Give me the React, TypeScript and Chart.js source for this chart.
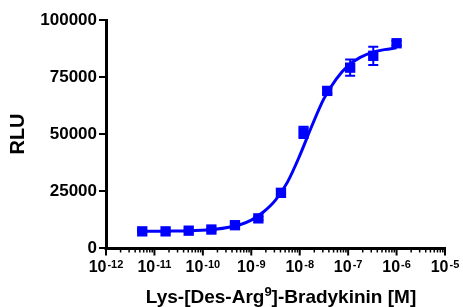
import React, { useEffect, useRef } from 'react';
import { Chart, registerables } from 'chart.js';

Chart.register(...registerables);

// Concentrations (M), 3-fold dilution series
const concentrations = [5.6e-12, 1.7e-11, 5.1e-11, 1.5e-10, 4.6e-10, 1.4e-9, 4.1e-9, 1.2e-8, 3.7e-8, 1.1e-7, 3.3e-7, 1.0e-6];
const rluMean = [7300, 7300, 7600, 8100, 10000, 13000, 24200, 50700, 68900, 79100, 84300, 89800];
const rluError = [300, 300, 300, 400, 600, 700, 1500, 2500, 1200, 3600, 4000, 1000];

// Fitted curve (log10 concentration, RLU)
const fitLogConc = [-11.25, -10.75, -10.25, -9.75, -9.25, -9.0, -8.75, -8.5, -8.25, -8.0, -7.75, -7.5, -7.25, -7.0, -6.75, -6.5, -6.25, -6.0];
const fitRLU = [7300, 7400, 7600, 8200, 10100, 12200, 15800, 21000, 29000, 40500, 53500, 65500, 74000, 80000, 83600, 85800, 87000, 87800];

const yTicks = [0, 25000, 50000, 75000, 100000];
const xDecades = [-12, -11, -10, -9, -8, -7, -6, -5];

const BLUE = '#0000FF';
const FONT = "'Liberation Sans', Arial, sans-serif";

const W = 463;
const H = 307;

const errorBarPlugin = {
  id: 'errorBars',
  afterDatasetsDraw(chart: any) {
    const { ctx, scales } = chart;
    const x = scales.x;
    const y = scales.y;
    ctx.save();
    ctx.strokeStyle = BLUE;
    ctx.lineWidth = 2;
    concentrations.forEach((c, i) => {
      const px = x.getPixelForValue(c);
      const yTop = y.getPixelForValue(rluMean[i] + rluError[i]);
      const yBot = y.getPixelForValue(rluMean[i] - rluError[i]);
      ctx.beginPath();
      ctx.moveTo(px, yTop);
      ctx.lineTo(px, yBot);
      ctx.moveTo(px - 5, yTop);
      ctx.lineTo(px + 5, yTop);
      ctx.moveTo(px - 5, yBot);
      ctx.lineTo(px + 5, yBot);
      ctx.stroke();
    });
    ctx.restore();
  },
};

const xAxisPlugin = {
  id: 'customXAxis',
  afterDraw(chart: any) {
    const { ctx, scales, chartArea } = chart;
    const x = scales.x;
    const y0 = chartArea.bottom + 0.5;
    ctx.save();
    ctx.strokeStyle = '#000';
    ctx.fillStyle = '#000';
    // axis line
    ctx.lineWidth = 3;
    ctx.beginPath();
    ctx.moveTo(x.getPixelForValue(Math.pow(10, xDecades[0])) - 1.5, y0);
    ctx.lineTo(x.getPixelForValue(Math.pow(10, xDecades[xDecades.length - 1])) + 1, y0);
    ctx.stroke();
    // ticks
    xDecades.forEach((d, idx) => {
      const px = x.getPixelForValue(Math.pow(10, d));
      ctx.lineWidth = 2;
      ctx.beginPath();
      ctx.moveTo(px, y0);
      ctx.lineTo(px, y0 + 7);
      ctx.stroke();
      if (idx < xDecades.length - 1) {
        ctx.lineWidth = 1.5;
        for (let m = 2; m <= 9; m++) {
          const mp = x.getPixelForValue(m * Math.pow(10, d));
          ctx.beginPath();
          ctx.moveTo(mp, y0);
          ctx.lineTo(mp, y0 + 4);
          ctx.stroke();
        }
      }
      // label 10^d
      const base = '10';
      const exp = String(d);
      ctx.font = `bold 16px ${FONT}`;
      const bw = ctx.measureText(base).width;
      ctx.font = `bold 11px ${FONT}`;
      const ew = ctx.measureText(exp).width;
      const total = bw + 1 + ew;
      const left = px - total / 2;
      const baseY = 272;
      ctx.textAlign = 'left';
      ctx.textBaseline = 'alphabetic';
      ctx.font = `bold 16px ${FONT}`;
      ctx.fillText(base, left, baseY);
      ctx.font = `bold 11px ${FONT}`;
      ctx.fillText(exp, left + bw + 1, baseY - 4);
    });
    // axis title with superscript 9
    const t1 = 'Lys-[Des-Arg';
    const sup = '9';
    const t2 = ']-Bradykinin [M]';
    ctx.font = `bold 19px ${FONT}`;
    const w1 = ctx.measureText(t1).width;
    const w3 = ctx.measureText(t2).width;
    ctx.font = `bold 13px ${FONT}`;
    const w2 = ctx.measureText(sup).width;
    const tw = w1 + w2 + w3;
    const cx = 281;
    const tl = cx - tw / 2;
    const ty = 303;
    ctx.font = `bold 19px ${FONT}`;
    ctx.fillText(t1, tl, ty);
    ctx.fillText(t2, tl + w1 + w2, ty);
    ctx.font = `bold 13px ${FONT}`;
    ctx.fillText(sup, tl + w1, ty - 7);
    ctx.restore();
  },
};

export default function App() {
  const canvasRef = useRef<HTMLCanvasElement | null>(null);

  useEffect(() => {
    const canvas = canvasRef.current;
    if (!canvas) return;
    const pointData = concentrations.map((c, i) => ({ x: c, y: rluMean[i] }));
    const fitData = fitLogConc.map((lx, i) => ({ x: Math.pow(10, lx), y: fitRLU[i] }));

    const chart = new Chart(canvas, {
      type: 'line',
      data: {
        datasets: [
          {
            label: 'data',
            data: pointData,
            showLine: false,
            pointStyle: 'rect',
            pointRadius: 7.3,
            pointBackgroundColor: BLUE,
            pointBorderColor: BLUE,
            pointBorderWidth: 0,
          },
          {
            label: 'fit',
            data: fitData,
            borderColor: BLUE,
            borderWidth: 3,
            pointRadius: 0,
            cubicInterpolationMode: 'monotone',
            fill: false,
          },
        ],
      },
      options: {
        animation: false,
        responsive: false,
        devicePixelRatio: 1,
        layout: { padding: { top: 20, right: 18, bottom: 0, left: 0 } },
        plugins: { legend: { display: false }, tooltip: { enabled: false } },
        scales: {
          x: {
            type: 'logarithmic',
            min: 1e-12,
            max: 1e-5,
            ticks: { display: false },
            grid: { display: false },
            border: { display: false },
            afterFit: (s: any) => {
              s.height = H - 248;
            },
          },
          y: {
            type: 'linear',
            min: 0,
            max: 100000,
            afterBuildTicks: (s: any) => {
              s.ticks = yTicks.map((v) => ({ value: v }));
            },
            ticks: {
              color: '#000',
              padding: 2,
              font: { family: FONT, size: 17, weight: 'bold' },
              callback: (v: any) => String(v),
            },
            grid: {
              drawOnChartArea: false,
              drawTicks: true,
              tickLength: 7,
              lineWidth: 2,
              color: '#000',
            },
            border: { display: true, width: 3, color: '#000' },
            title: {
              display: true,
              text: 'RLU',
              color: '#000',
              font: { family: FONT, size: 20, weight: 'bold' },
              padding: { top: 6, bottom: 0 },
            },
            afterFit: (s: any) => {
              s.width = 106;
            },
          },
        },
      },
      plugins: [errorBarPlugin, xAxisPlugin],
    } as any);
    return () => chart.destroy();
  }, []);

  return (
    <div style={{ position: 'absolute', left: 0, top: 0, width: W, height: H, background: '#fff' }}>
      <canvas ref={canvasRef} width={W} height={H} style={{ display: 'block', width: W, height: H }} />
    </div>
  );
}
